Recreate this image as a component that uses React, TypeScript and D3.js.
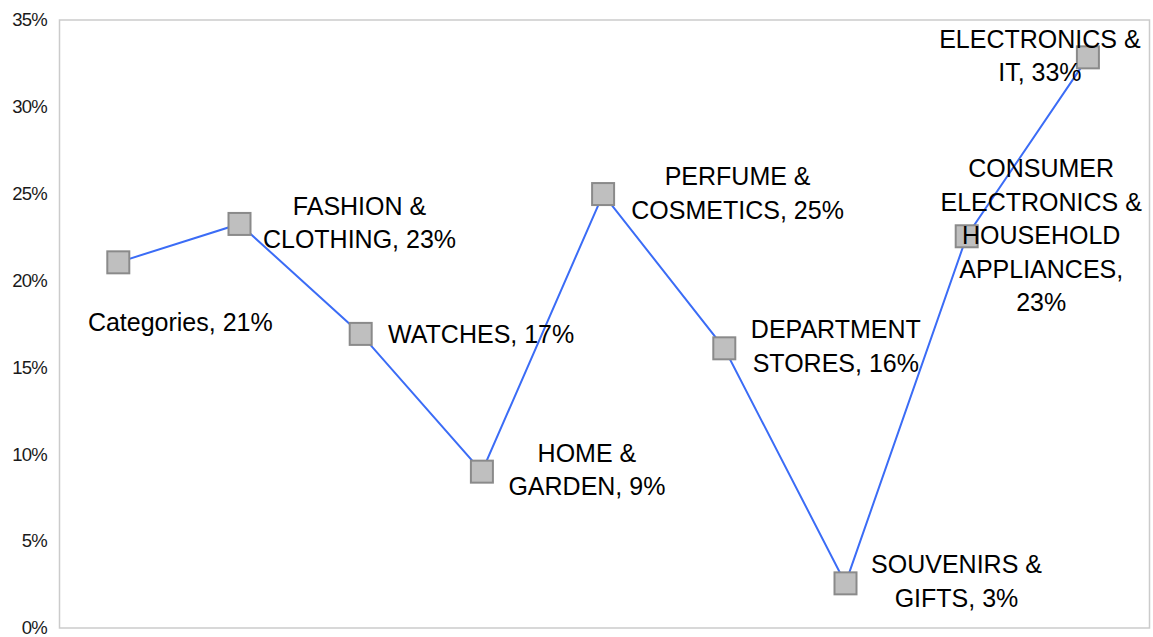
import React from "react";
import * as d3 from "d3";

const categories = [
  "Categories",
  "FASHION & CLOTHING",
  "WATCHES",
  "HOME & GARDEN",
  "PERFUME & COSMETICS",
  "DEPARTMENT STORES",
  "SOUVENIRS & GIFTS",
  "CONSUMER ELECTRONICS & HOUSEHOLD APPLIANCES",
  "ELECTRONICS & IT",
];
const values = [21.05, 23.26, 16.93, 9.0, 24.98, 16.1, 2.57, 22.55, 32.85];
const valueLabels = ["21%", "23%", "17%", "9%", "25%", "16%", "3%", "23%", "33%"];
const labelLines = [
  ["Categories, 21%"],
  ["FASHION &", "CLOTHING, 23%"],
  ["WATCHES, 17%"],
  ["HOME &", "GARDEN, 9%"],
  ["PERFUME &", "COSMETICS, 25%"],
  ["DEPARTMENT", "STORES, 16%"],
  ["SOUVENIRS &", "GIFTS, 3%"],
  ["CONSUMER", "ELECTRONICS &", "HOUSEHOLD", "APPLIANCES,", "23%"],
  ["ELECTRONICS &", "IT, 33%"],
];
const yTicks = [0, 5, 10, 15, 20, 25, 30, 35];

// layout: label offsets (center x, first baseline) relative to point
const labelOffsets: [number, number][] = [
  [62, 69],
  [120, -9],
  [120.5, 9],
  [105, -10],
  [134.5, -9],
  [111.5, -10],
  [111, -10],
  [74.5, -59],
  [-48, -9.6],
];

const W = 1153;
const H = 637;
const plot = { left: 59.5, right: 1149.5, top: 20, bottom: 628 };

export default function App() {
  const x = d3
    .scaleBand<string>()
    .domain(categories)
    .range([57.7, 1148.5]);
  const y = d3.scaleLinear().domain([0, 35]).range([plot.bottom, plot.top]);
  const cx = (c: string) => (x(c) as number) + x.bandwidth() / 2;
  const pts = categories.map((c, i) => [cx(c), y(values[i])] as [number, number]);
  const line = d3.line()(pts) as string;
  const lineH = 33.5;
  const ms = 22;

  return (
    <svg
      width={W}
      height={H}
      style={{ position: "absolute", left: 0, top: 0, background: "#fff" }}
      fontFamily="'Liberation Sans', Arial, sans-serif"
    >
      <rect x={0} y={0} width={W} height={H} fill="#fff" />
      <rect
        x={plot.left}
        y={plot.top}
        width={plot.right - plot.left}
        height={plot.bottom - plot.top}
        fill="none"
        stroke="#cbcbcb"
        strokeWidth={1.5}
      />
      {yTicks.map((t) => (
        <text
          key={t}
          x={47}
          y={y(t)}
          dy="0.34em"
          textAnchor="end"
          fontSize={18.5}
          letterSpacing={-0.8}
          fill="#1a1a1a"
        >
          {t + "%"}
        </text>
      ))}
      <path d={line} fill="none" stroke="#3b6cf6" strokeWidth={2} />
      {pts.map(([px, py], i) => (
        <rect
          key={i}
          x={px - ms / 2}
          y={py - ms / 2}
          width={ms}
          height={ms}
          fill="#bfbfbf"
          stroke="#8a8a8a"
          strokeWidth={2}
        />
      ))}
      {pts.map(([px, py], i) => (
        <text
          key={"l" + i}
          x={px + labelOffsets[i][0]}
          y={py + labelOffsets[i][1]}
          textAnchor="middle"
          fontSize={25}
          fill="#000"
          data-value={valueLabels[i]}
        >
          {labelLines[i].map((ln, j) => (
            <tspan key={j} x={px + labelOffsets[i][0]} dy={j === 0 ? 0 : lineH}>
              {ln}
            </tspan>
          ))}
        </text>
      ))}
    </svg>
  );
}
